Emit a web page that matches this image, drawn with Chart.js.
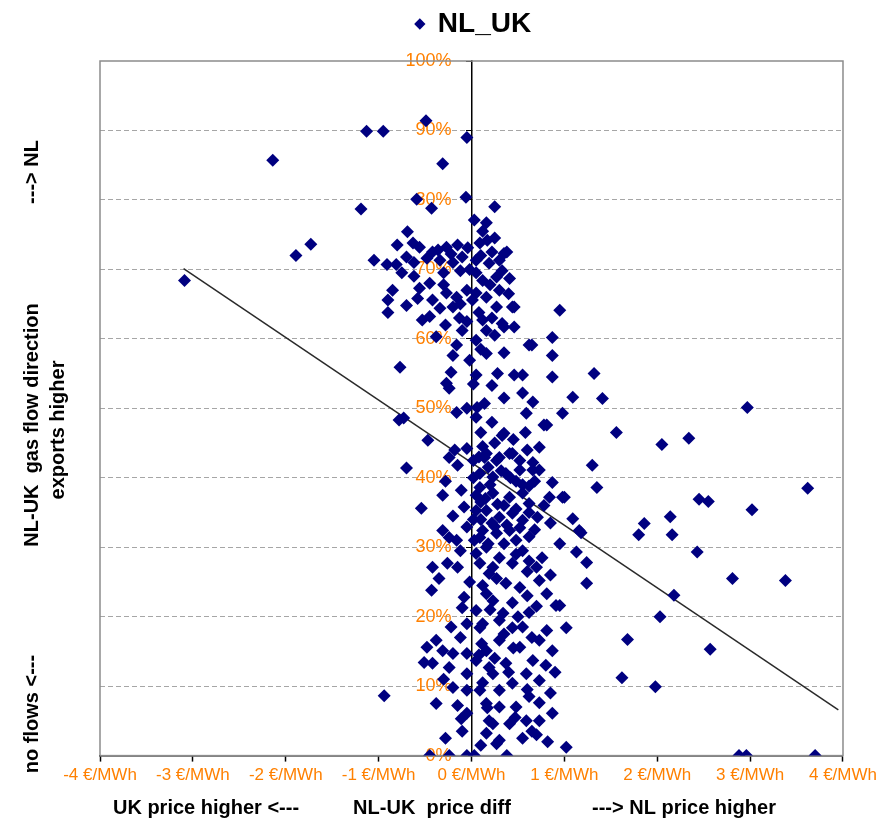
<!DOCTYPE html>
<html>
<head>
<meta charset="utf-8">
<title>NL_UK</title>
<script src="https://cdn.jsdelivr.net/npm/chart.js@4.4.1/dist/chart.umd.min.js"></script>
<style>
  html, body { margin: 0; padding: 0; background: #fff; }
  #wrap { width: 881px; height: 820px; }
</style>
</head>
<body>
<div id="wrap"><canvas id="flowchart"></canvas></div>
<script>
"use strict";

/* NL-UK price difference (EUR/MWh) against share of gas flow direction (%) */
var priceDiff = [
    -3.09, -2.14, -1.89, -1.73, -1.19, -1.13, -0.95, -0.94, -0.49, -0.05,
    -0.31, -0.06, -0.59, -0.43, 0.25, 0.03, 0.16, -0.69, -1.05, -0.91,
    -0.81, -0.80, -0.90, -0.90, -0.77, -0.78, 0.17, -0.63, -0.56, -0.42,
    -0.27, -0.15, -0.04, 0.09, 0.38, -0.70, -0.48, -0.34, -0.20, -0.10,
    0.05, 0.19, 0.30, 0.41, 0.27, 0.12, -0.56, -0.42, -0.27, -0.16,
    -0.05, 0.05, 0.16, 0.30, -0.70, -0.34, -0.20, 0.01, 0.27, 0.46,
    -0.53, -0.13, 0.12, 0.33, 0.46, 0.16, -0.10, 0.05, 0.65, 0.87,
    -0.16, -0.20, 0.16, 0.87, -0.02, -0.22, 0.05, 0.28, 0.46, 0.55,
    0.87, -0.27, 0.22, -0.24, 0.55, 0.66, 0.14, 0.06, -0.16, -0.05,
    0.05, 0.59, 0.78, 0.35, -0.47, 0.73, -0.24, -0.05, 0.14, 0.27,
    0.41, 0.52, 0.66, 0.35, 0.44, 0.95, 0.35, 0.62, 1.32, 1.09,
    0.98, 0.81, 0.33, 1.41, 2.97, 1.56, 2.05, 2.34, 1.30, 1.35,
    0.98, 3.62, 2.45, 2.55, 3.02, 1.09, 1.86, 1.80, 2.14, 2.16,
    1.18, 1.13, 1.24, 2.43, 1.24, 2.81, 3.38, 2.18, 0.95, 1.02,
    2.03, 1.68, 2.57, 1.62, 1.98, 1.02, 2.88, 2.96, 3.70, 0.16,
    0.30, 0.44, 0.52, 0.23, 0.37, 0.66, 0.73, 0.87, 1.00, 0.84,
    0.09, 0.23, 0.41, 0.55, 0.16, 0.30, 0.44, 0.55, 0.71, 1.16,
    0.12, 0.27, 0.41, 0.76, 0.70, 0.55, 0.30, 0.16, 0.23, 0.44,
    0.37, 0.16, 0.52, 0.73, 0.81, 0.91, 0.23, 0.44, 0.62, 0.12,
    0.30, 0.44, 0.81, 0.73, 0.87, 0.30, 0.16, 0.52, 0.66, 0.37,
    0.23, 0.59, 0.73, 0.44, 0.30, 0.16, 0.73, 0.87, 0.59, 0.41,
    0.23, 0.73, 0.30, 0.16, 0.38, -0.70, -0.15, -0.31, -0.54, -0.11,
    -0.05, -0.31, -0.24, -0.42, -0.26, -0.15, -0.43, -0.08, -0.10, -0.05,
    -0.38, -0.48, -0.31, -0.20, -0.51, -0.42, -0.24, -0.05, -0.05, -0.20,
    -0.05, -0.15, -0.05, -0.11, -0.45, -0.24, -0.05, 0.03, 0.09, 0.05,
    0.09, 0.05, 0.19, 0.09, 0.05, 0.09, 0.11, 0.05, 0.19, 0.09,
    0.17, 0.19, 0.27, -0.73, -0.16, 0.02, 0.20, 0.48, 0.62, 0.10,
    0.35, 0.62, 0.25, 0.48, 0.62, 0.02, 0.35, 0.08, 0.60, 0.05,
    0.22, -0.02, 0.12, -0.30, -0.62, 0.50, 0.62, 0.48, 0.35, 0.60,
    0.85, 0.90, 0.25, 0.55, 0.70, 0.02, 0.12, 0.25, 0.45, 0.58,
    0.18, 0.32, 0.42, 0.55, 0.68, 0.05, 0.15, 0.28, 0.48, 0.62,
    0.78, 0.10, 0.22, 0.38, 0.52, 0.68, 0.85, 0.03, 0.18, 0.48,
    0.62, 0.95, 0.27, 0.12, 0.60, 0.70, 0.34, 0.20, 0.55, 0.65,
    0.45, 0.08, 0.80, 0.40, 0.12, 0.60, 0.85, 0.30, 0.47, 0.65,
    0.10, 0.82, -0.62, -0.36, -0.22, -0.12, -0.45, -0.30, -0.58, -0.12,
    -0.45, -0.28, -0.05, -0.38, -0.75, -0.85, 0.10, 0.25, 0.33, 0.20,
    0.08, 0.22, 0.40, 0.35, 0.10, 0.25, 0.02, 0.35, 0.10, 0.22,
    -0.18, -0.28, -0.08, -0.20, -0.12, -0.35, -0.02, -0.22, -0.12, -0.30,
    -0.10, -0.28, -0.38
];
var flowShare = [
    68.4, 85.7, 72.0, 73.6, 78.7, 89.9, 89.9, 8.6, 91.4, 89.0,
    85.2, 80.4, 80.1, 78.8, 79.0, 77.1, 76.7, 75.4, 71.3, 70.7,
    70.7, 73.5, 65.6, 63.8, 55.9, 48.3, 74.2, 73.8, 73.2, 72.5,
    73.2, 73.5, 73.1, 73.8, 72.5, 71.8, 71.6, 71.3, 71.0, 71.8,
    71.3, 70.9, 71.3, 68.7, 68.9, 68.4, 67.3, 65.6, 66.6, 66.0,
    67.0, 66.6, 66.0, 67.0, 64.8, 64.4, 64.6, 65.6, 64.6, 64.6,
    62.7, 63.0, 62.7, 62.2, 61.7, 61.2, 61.2, 59.8, 59.1, 60.2,
    59.1, 57.6, 57.9, 57.6, 56.9, 55.2, 54.8, 55.0, 54.8, 54.8,
    54.5, 53.6, 53.3, 52.9, 52.2, 50.9, 50.7, 50.1, 49.4, 50.0,
    48.7, 49.3, 47.6, 46.4, 45.4, 44.4, 42.9, 44.2, 42.9, 42.5,
    43.5, 42.5, 42.2, 72.3, 64.6, 64.1, 61.7, 59.1, 55.0, 51.6,
    49.3, 47.6, 46.1, 51.4, 50.1, 46.5, 44.8, 45.7, 41.8, 38.6,
    37.2, 38.5, 36.9, 36.6, 35.4, 34.1, 33.4, 31.8, 34.4, 31.8,
    32.1, 29.3, 27.8, 29.3, 24.8, 25.5, 25.2, 23.1, 21.6, 18.4,
    20.0, 16.7, 15.3, 11.2, 9.9, 1.2, 0.0, 0.0, 0.0, 43.5,
    42.9, 43.5, 41.1, 40.1, 40.6, 41.1, 41.1, 39.3, 37.2, 37.2,
    38.6, 37.8, 37.2, 37.8, 35.3, 34.3, 34.9, 33.9, 34.3, 32.4,
    32.4, 32.0, 32.4, 28.5, 27.1, 29.5, 28.5, 30.0, 27.1, 27.7,
    24.8, 23.3, 24.2, 25.2, 23.3, 21.6, 22.3, 22.0, 20.6, 19.0,
    19.5, 18.4, 18.0, 16.6, 15.1, 16.6, 15.1, 15.6, 13.7, 13.3,
    11.8, 11.8, 10.8, 10.4, 9.4, 7.5, 7.6, 6.1, 5.0, 4.6,
    4.6, 5.0, 2.2, 3.2, 0.0, 41.4, 41.8, 37.5, 35.6, 38.2,
    32.9, 32.4, 31.4, 27.1, 27.7, 27.1, 23.8, 22.8, 21.3, 19.0,
    16.6, 15.6, 15.1, 14.7, 13.4, 13.3, 12.7, 14.7, 11.8, 9.8,
    9.4, 7.2, 6.1, 5.3, 0.0, 0.0, 0.0, 0.0, 40.6, 35.3,
    31.4, 29.1, 26.2, 27.7, 20.9, 18.4, 16.1, 13.7, 12.7, 9.4,
    6.9, 5.0, 1.7, 48.6, 31.0, 40.0, 39.0, 39.5, 38.8, 36.5,
    36.0, 36.3, 33.0, 31.0, 31.5, 34.0, 30.5, 43.0, 44.0, 69.5,
    72.5, 70.0, 75.5, 69.5, 69.0, 20.0, 8.5, 7.0, 17.5, 26.5,
    26.0, 12.0, 14.0, 2.5, 3.0, 42.5, 44.5, 45.0, 45.5, 46.5,
    41.5, 41.0, 40.0, 39.0, 39.5, 37.5, 37.0, 36.2, 35.5, 35.0,
    36.0, 34.0, 33.5, 33.2, 32.8, 32.5, 33.5, 31.0, 30.5, 29.0,
    28.0, 30.5, 25.5, 24.5, 23.0, 21.5, 20.5, 21.0, 18.5, 17.0,
    15.5, 14.5, 13.0, 12.0, 10.5, 9.5, 9.0, 7.0, 5.5, 3.5,
    1.5, 2.0, 71.0, 72.8, 72.2, 69.8, 68.0, 67.8, 65.8, 65.0,
    63.2, 62.0, 62.5, 60.3, 69.5, 67.0, 72.0, 74.5, 69.8, 67.8,
    63.8, 63.0, 66.5, 58.0, 58.5, 60.5, 53.5, 51.5, 46.5, 48.0,
    44.0, 39.5, 35.8, 34.5, 29.5, 25.5, 25.0, 18.5, 17.0, 11.0,
    3.5, 2.5, 7.5
];

/* linear trend line end points */
var trendX = [-3.1, 3.95];
var trendY = [70.1, 6.6];

var seriesName = 'NL_UK';
var xTicks = [-4, -3, -2, -1, 0, 1, 2, 3, 4];
var xTitle = ['UK price higher <---', 'NL-UK  price diff', '---> NL price higher'];
var yTitle = ['no flows <---', 'NL-UK  gas flow direction', '---> NL'];
var yTitle2 = 'exports higher';

var points = priceDiff.map(function (x, i) {
    return { x: x, y: flowShare[i] };
});
var trend = trendX.map(function (x, i) {
    return { x: x, y: trendY[i] };
});

/* leave a gap between legend and plot */
var legendGap = {
    id: 'legendGap',
    beforeInit: function (chart) {
        var fit = chart.legend.fit;
        chart.legend.fit = function () {
            fit.bind(chart.legend)();
            this.height += 13;
        };
    }
};

/* frame round the plot area and the axis titles */
var chartDecor = {
    id: 'chartDecor',
    beforeDatasetsDraw: function (chart) {
        var ctx = chart.ctx, a = chart.chartArea;
        ctx.save();
        ctx.strokeStyle = '#8c8c8c';
        ctx.lineWidth = 1.5;
        ctx.strokeRect(a.left, a.top, a.right - a.left, a.bottom - a.top);
        ctx.restore();
    },
    afterDraw: function (chart) {
        var ctx = chart.ctx;
        ctx.save();
        ctx.fillStyle = '#000';
        ctx.font = 'bold 20px Arial, "Liberation Sans", sans-serif';
        ctx.textAlign = 'center';
        ctx.textBaseline = 'middle';
        // x title, three parts spread under the axis
        var xc = [206, 432, 684];
        xTitle.forEach(function (t, i) {
            ctx.fillText(t, xc[i], 808);
        });
        // y title, rotated
        var yc = [714, 425, 172];
        yTitle.forEach(function (t, i) {
            ctx.save();
            ctx.translate(32, yc[i]);
            ctx.rotate(-Math.PI / 2);
            ctx.fillText(t, 0, 0);
            ctx.restore();
        });
        ctx.save();
        ctx.translate(58, 430);
        ctx.rotate(-Math.PI / 2);
        ctx.fillText(yTitle2, 0, 0);
        ctx.restore();
        ctx.restore();
    }
};

var ctx = document.getElementById('flowchart').getContext('2d');
var flowChart = new Chart(ctx, {
    type: 'scatter',
    data: {
        datasets: [{
            label: seriesName,
            data: points,
            pointStyle: 'rectRot',
            pointRadius: 6.5,
            pointBorderWidth: 0,
            backgroundColor: '#000080',
            borderColor: '#000080',
        }, {
            type: 'line',
            label: 'trend',
            data: trend,
            borderColor: '#2a2a2a',
            borderWidth: 1.5,
            pointRadius: 0,
            fill: false,
            tension: 0,
        }]
    },
    options: {
        responsive: true,
        maintainAspectRatio: false,
        animation: false,
        layout: {
            padding: { left: 100, right: 34, top: 0, bottom: 30 }
        },
        plugins: {
            legend: {
                display: true,
                position: 'top',
                labels: {
                    usePointStyle: true,
                    pointStyle: 'rectRot',
                    boxWidth: 8,
                    boxHeight: 8,
                    color: '#000',
                    padding: 10,
                    font: { family: 'Arial', size: 28, weight: 'bold' },
                    filter: function (item) {
                        return item.datasetIndex === 0;
                    }
                }
            },
            tooltip: { enabled: false }
        },
        scales: {
            x: {
                type: 'linear',
                position: 'bottom',
                min: xTicks[0],
                max: xTicks[xTicks.length - 1],
                afterBuildTicks: function (scale) {
                    scale.ticks = xTicks.map(function (v) { return { value: v }; });
                },
                ticks: {
                    color: '#ff8000',
                    font: { family: 'Arial', size: 17 },
                    padding: 4,
                    maxRotation: 0,
                    callback: function (v) { return v + ' \u20ac/MWh'; }
                },
                grid: {
                    drawOnChartArea: false,
                    drawTicks: true,
                    tickLength: 6,
                    tickColor: '#000',
                    tickWidth: 1.5
                },
                border: { display: true, color: '#000', width: 1.5 }
            },
            y: {
                type: 'linear',
                position: { x: 0 },
                min: 0,
                max: 100,
                z: 1,
                ticks: {
                    stepSize: 10,
                    color: '#ff8000',
                    font: { family: 'Arial', size: 18 },
                    // keep a gap between the label and the axis line
                    callback: function (v) { return v + '%    '; }
                },
                grid: {
                    color: function (c) {
                        return c.tick && (c.tick.value === 0 || c.tick.value === 100) ? 'rgba(0,0,0,0)' : '#a6a6a6';
                    },
                    lineWidth: 1,
                    tickLength: 5,
                    tickColor: '#000'
                },
                border: { display: true, color: '#000', width: 1.5, dash: [5, 3] }
            }
        }
    },
    plugins: [legendGap, chartDecor]
});
</script>
</body>
</html>
